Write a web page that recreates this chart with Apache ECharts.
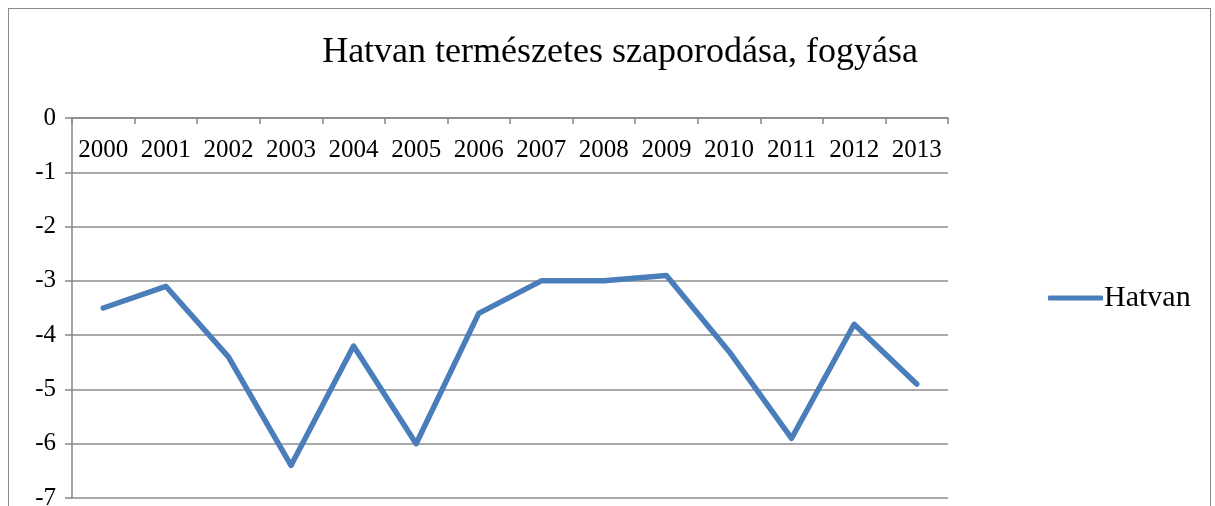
<!DOCTYPE html>
<html>
<head>
<meta charset="utf-8">
<script src="https://cdn.jsdelivr.net/npm/echarts@6/dist/echarts.min.js"></script>
<style>
  html, body { margin: 0; padding: 0; background: #fff; }
  #frame { position: absolute; left: 8px; top: 8px; width: 1203px; height: 510px; border: 1px solid #8a8a8a; border-bottom: none; box-sizing: border-box; }
  #chart { position: absolute; left: 0; top: 0; width: 1215px; height: 506px; }
</style>
</head>
<body>
<div id="frame"></div>
<div id="chart"></div>
<script>
const years = ['2000', '2001', '2002', '2003', '2004', '2005', '2006', '2007', '2008', '2009', '2010', '2011', '2012', '2013']
const hatvan = [-3.5, -3.1, -4.4, -6.4, -4.2, -6.0, -3.6, -3.0, -3.0, -2.9, -4.3, -5.9, -3.8, -4.9]

const font = '"Liberation Serif", "DejaVu Serif", serif'
const chart = echarts.init(document.getElementById('chart'))
chart.setOption({
    animation: false,
    title: {
        text: 'Hatvan természetes szaporodása, fogyása',
        left: 615,
        textAlign: 'center',
        top: 30,
        textStyle: { fontFamily: font, fontSize: 36, fontWeight: 'normal', color: '#000' }
    },
    legend: {
        data: [{ name: 'Hatvan', icon: 'roundRect' }],
        left: 1043,
        top: 278,
        itemWidth: 55,
        itemHeight: 5,
        itemGap: 4,
        textStyle: { fontFamily: font, fontSize: 30, color: '#000', padding: [0, 0, 0, -4] }
    },
    grid: { left: 72, right: 267, top: 118, bottom: 8, outerBoundsMode: 'none' },
    xAxis: {
        type: 'category',
        data: years,
        position: 'top',
        boundaryGap: true,
        axisLine: { lineStyle: { color: '#868686', width: 1.5 } },
        axisTick: { show: true, inside: true, length: 6, lineStyle: { color: '#868686', width: 1.5 } },
        axisLabel: { inside: true, margin: 20, fontFamily: font, fontSize: 25, color: '#000', interval: 0 }
    },
    yAxis: {
        type: 'value',
        min: -7,
        max: 0,
        interval: 1,
        axisLine: { show: true, lineStyle: { color: '#868686', width: 1.5 } },
        axisTick: { show: true, length: 7, lineStyle: { color: '#868686', width: 1.5 } },
        axisLabel: { margin: 16, fontFamily: font, fontSize: 25, color: '#000' },
        splitLine: { lineStyle: { color: '#8c8c8c', width: 1.5 } }
    },
    series: [
        {
            name: 'Hatvan',
            type: 'line',
            data: hatvan,
            symbol: 'none',
            itemStyle: { color: '#4a7ebb' },
            lineStyle: { color: '#4a7ebb', width: 5.5, cap: 'round', join: 'round' }
        }
    ]
})
</script>
</body>
</html>
